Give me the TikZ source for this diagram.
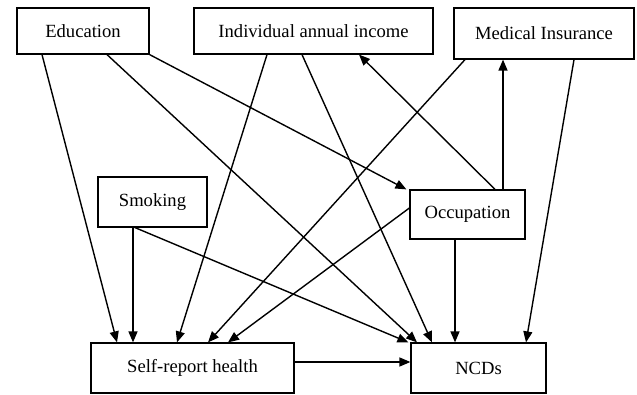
\documentclass[tikz,border=0pt]{standalone}
\usepackage{fontspec}
\setmainfont{Liberation Serif}
\usetikzlibrary{arrows.meta}
\begin{document}
\begin{tikzpicture}[x=1pt,y=-1pt,
  box/.style={draw,line width=1.2pt,inner sep=0pt,font=\fontsize{18.6}{20}\selectfont},
  arr/.style={line width=1.4pt,-{Triangle[length=11pt,width=9pt]}}]
\useasboundingbox (0,0) rectangle (637,395);
\node[box,minimum width=132pt,minimum height=46pt] (edu) at (83,31) {Education};
\node[box,minimum width=239pt,minimum height=46pt] (inc) at (313.5,31) {Individual annual income};
\node[box,minimum width=180pt,minimum height=51pt] (med) at (544,33.5) {Medical Insurance};
\node[box,minimum width=109pt,minimum height=50pt] (smk) at (152.5,202) {Smoking};
\node[box,minimum width=115pt,minimum height=49pt] (occ) at (467.5,214.5) {Occupation};
\node[box,minimum width=203pt,minimum height=50pt] (srh) at (192.5,368) {Self-report health};
\node[box,minimum width=135pt,minimum height=50pt] (ncd) at (478.5,368) {NCDs};
% Education
\draw[arr] ([xshift=-41pt]edu.south) -- ([xshift=-75.5pt]srh.north);
\draw[arr] ([xshift=24pt]edu.south) -- ([xshift=-61.5pt]ncd.north);
\draw[arr] (edu.south east) -- ([xshift=-3pt]occ.north west);
% Income
\draw[arr] ([xshift=-46.5pt]inc.south) -- ([xshift=-15.5pt]srh.north);
\draw[arr] ([xshift=-11.5pt]inc.south) -- ([xshift=-46.5pt]ncd.north);
% Medical insurance
\draw[arr] ([xshift=-79pt]med.south) -- ([xshift=15.5pt]srh.north);
\draw[arr] ([xshift=30pt]med.south) -- ([xshift=47.5pt]ncd.north);
% Smoking
\draw[arr] ([xshift=-19.5pt]smk.south) -- ([xshift=-59.5pt]srh.north);
\draw[arr] ([xshift=-17.5pt]smk.south) -- ([xshift=-2pt]ncd.north west);
% Occupation
\draw[arr] ([xshift=-12.5pt]occ.south) -- ([xshift=-23.5pt]ncd.north);
\draw[arr] ([yshift=6.5pt]occ.west) -- ([xshift=35.5pt]srh.north);
\draw[arr] ([xshift=27.5pt]occ.north) -- ([xshift=45.5pt]inc.south);
\draw[arr] ([xshift=35.5pt]occ.north) -- ([xshift=-41pt]med.south);
% SRH -> NCDs
\draw[arr] ([yshift=6pt]srh.east) -- ([yshift=6pt]ncd.west);
\end{tikzpicture}
\end{document}
